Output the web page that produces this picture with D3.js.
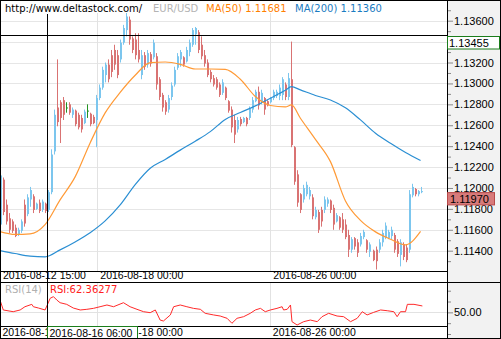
<!DOCTYPE html>
<html><head><meta charset="utf-8">
<script src="https://cdn.jsdelivr.net/npm/d3@7"></script>
<style>html,body{margin:0;padding:0;background:#fff;}svg{display:block;}</style>
</head><body><svg id="c" width="501" height="339"></svg>
<script>
// ---------- DATA ----------
const candlePeriodHours = 2.5; // trading hours per drawn candle
const candleOpen = [1.1165,1.1208,1.1184,1.1171,1.1168,1.1162,1.1155,1.1159,1.1184,1.1175,1.1189,1.1192,1.1180,1.1186,1.1179,1.1185,1.1179,1.1196,1.1235,1.1277,
1.1282,1.1284,1.1277,1.1280,1.1270,1.1274,1.1270,1.1267,1.1262,1.1274,1.1271,1.1268,1.1265,1.1286,1.1296,1.1308,1.1318,1.1327,1.1332,1.1327,
1.1323,1.1339,1.1351,1.1361,1.1343,1.1342,1.1332,1.1308,1.1327,1.1318,1.1328,1.1325,1.1326,1.1304,1.1289,1.1282,1.1275,1.1287,1.1299,1.1315,
1.1323,1.1325,1.1321,1.1330,1.1337,1.1347,1.1349,1.1337,1.1327,1.1320,1.1311,1.1305,1.1304,1.1299,1.1291,1.1296,1.1283,1.1275,1.1265,1.1256,
1.1266,1.1263,1.1267,1.1267,1.1275,1.1283,1.1292,1.1282,1.1286,1.1283,1.1282,1.1286,1.1288,1.1288,1.1289,1.1299,1.1287,1.1304,1.1239,1.1213,
1.1194,1.1189,1.1194,1.1192,1.1191,1.1172,1.1177,1.1179,1.1179,1.1185,1.1188,1.1181,1.1168,1.1172,1.1170,1.1165,1.1155,1.1141,1.1152,1.1148,
1.1146,1.1153,1.1150,1.1139,1.1140,1.1141,1.1141,1.1148,1.1153,1.1152,1.1154,1.1155,1.1149,1.1136,1.1146,1.1143,1.1141,1.1193,1.1199,1.1194,1.1196];
const candleHigh = [1.1219,1.1210,1.1189,1.1176,1.1170,1.1165,1.1162,1.1170,1.1189,1.1194,1.1201,1.1194,1.1186,1.1189,1.1189,1.1186,1.1198,1.1237,1.1275,1.1323,
1.1284,1.1287,1.1282,1.1282,1.1277,1.1275,1.1272,1.1270,1.1275,1.1280,1.1272,1.1270,1.1289,1.1299,1.1316,1.1320,1.1323,1.1332,1.1337,1.1332,
1.1342,1.1356,1.1368,1.1364,1.1345,1.1348,1.1348,1.1332,1.1330,1.1332,1.1330,1.1342,1.1329,1.1306,1.1291,1.1284,1.1289,1.1301,1.1316,1.1329,
1.1332,1.1326,1.1335,1.1342,1.1353,1.1354,1.1351,1.1345,1.1332,1.1323,1.1313,1.1308,1.1306,1.1301,1.1304,1.1297,1.1284,1.1278,1.1270,1.1268,
1.1268,1.1268,1.1268,1.1278,1.1287,1.1294,1.1297,1.1294,1.1287,1.1284,1.1287,1.1294,1.1294,1.1299,1.1306,1.1301,1.1310,1.1340,1.1240,1.1217,
1.1195,1.1203,1.1206,1.1201,1.1194,1.1182,1.1179,1.1182,1.1192,1.1191,1.1189,1.1184,1.1176,1.1173,1.1176,1.1170,1.1160,1.1153,1.1153,1.1151,
1.1157,1.1160,1.1151,1.1148,1.1141,1.1144,1.1151,1.1160,1.1167,1.1160,1.1163,1.1157,1.1151,1.1151,1.1148,1.1146,1.1198,1.1204,1.1200,1.1198,1.1201];
const candleLow = [1.1158,1.1174,1.1165,1.1157,1.1157,1.1153,1.1154,1.1157,1.1163,1.1173,1.1182,1.1176,1.1179,1.1176,1.1177,1.1176,1.1177,1.1194,1.1232,1.1259,
1.1243,1.1265,1.1272,1.1270,1.1267,1.1259,1.1256,1.1253,1.1261,1.1267,1.1259,1.1261,1.1239,1.1284,1.1294,1.1301,1.1301,1.1306,1.1313,1.1305,
1.1320,1.1337,1.1345,1.1337,1.1329,1.1323,1.1320,1.1304,1.1313,1.1315,1.1316,1.1323,1.1294,1.1284,1.1273,1.1270,1.1272,1.1284,1.1297,1.1313,
1.1316,1.1316,1.1320,1.1326,1.1335,1.1337,1.1329,1.1323,1.1316,1.1306,1.1301,1.1297,1.1294,1.1287,1.1289,1.1284,1.1272,1.1253,1.1243,1.1253,
1.1259,1.1262,1.1259,1.1265,1.1272,1.1282,1.1275,1.1280,1.1270,1.1278,1.1281,1.1284,1.1286,1.1284,1.1284,1.1284,1.1284,1.1239,1.1203,1.1182,
1.1176,1.1186,1.1192,1.1189,1.1170,1.1170,1.1157,1.1163,1.1176,1.1182,1.1176,1.1160,1.1167,1.1160,1.1157,1.1151,1.1134,1.1138,1.1141,1.1134,
1.1144,1.1151,1.1138,1.1134,1.1130,1.1122,1.1138,1.1144,1.1151,1.1151,1.1151,1.1138,1.1134,1.1125,1.1131,1.1129,1.1138,1.1191,1.1192,1.1192,1.1195];
const candleClose = [1.1212,1.1177,1.1168,1.1160,1.1159,1.1154,1.1160,1.1168,1.1166,1.1191,1.1198,1.1179,1.1185,1.1178,1.1187,1.1178,1.1196,1.1232,1.1270,1.1263,
1.1267,1.1270,1.1277,1.1272,1.1275,1.1261,1.1258,1.1256,1.1273,1.1274,1.1261,1.1262,1.1286,1.1296,1.1313,1.1318,1.1304,1.1311,1.1318,1.1308,
1.1339,1.1353,1.1364,1.1342,1.1332,1.1327,1.1323,1.1327,1.1316,1.1329,1.1319,1.1339,1.1299,1.1287,1.1277,1.1273,1.1286,1.1298,1.1313,1.1326,
1.1330,1.1318,1.1332,1.1339,1.1351,1.1353,1.1332,1.1326,1.1319,1.1308,1.1304,1.1299,1.1296,1.1289,1.1301,1.1286,1.1274,1.1258,1.1251,1.1265,
1.1261,1.1267,1.1261,1.1276,1.1284,1.1292,1.1279,1.1291,1.1275,1.1279,1.1286,1.1292,1.1292,1.1296,1.1304,1.1287,1.1305,1.1241,1.1206,1.1186,
1.1179,1.1200,1.1203,1.1198,1.1173,1.1179,1.1160,1.1168,1.1189,1.1189,1.1179,1.1165,1.1174,1.1162,1.1160,1.1153,1.1141,1.1151,1.1144,1.1138,
1.1154,1.1158,1.1141,1.1146,1.1131,1.1130,1.1148,1.1157,1.1164,1.1158,1.1160,1.1141,1.1137,1.1148,1.1134,1.1131,1.1194,1.1201,1.1194,1.1197,1.1197];

// moving averages, read at these candle indices
const maIndex = [0,5,10,15,20,25,30,35,40,45,50,55,60,65,70,75,80,85,90,95,97,100,105,110,115,120,125,130,135,140];
const ma50 = [1.11583,1.11556,1.11561,1.11650,1.11886,1.12106,1.12431,1.12718,1.12914,1.13078,1.13199,1.13205,1.13183,1.13138,1.13138,1.13134,1.13040,1.12875,1.12789,1.12775,1.12794,1.12667,1.12464,1.12252,1.11876,1.11690,1.11580,1.11510,1.11456,1.11585];
const ma200 = [1.11401,1.11373,1.11348,1.11341,1.11408,1.11484,1.11572,1.11685,1.11838,1.12032,1.12189,1.12273,1.12362,1.12447,1.12539,1.12656,1.12722,1.12785,1.12859,1.12934,1.12969,1.12938,1.12885,1.12842,1.12767,1.12651,1.12524,1.12428,1.12340,1.12263];

// RSI(14), read at these candle indices
const rsiIndex = [0,1.1,4.4,6.7,8.3,10.6,11.1,12.8,15,15.6,16.7,17.8,18.9,20,22.2,24.4,26.7,28.9,31.1,33.3,35.6,37.8,41.1,43.3,45.6,47.8,50,51.7,53.3,54.4,56.7,57.8,60,62.2,64.4,66.7,68.3,71.1,73.3,75.6,77.2,78.9,81.1,83.3,85,86.7,88.3,90,92.2,93.9,94.4,95.6,96.7,97.2,98.9,101.1,103.3,105.6,107.2,109.4,112.2,114.4,116.7,118.9,120.6,122.2,124.4,126.7,128.9,131.1,132.2,133.3,135,135.6,137.8,140.6];
const rsiValue = [61.4,52.2,50.6,52.2,55.2,57.4,55.2,54.0,52.2,55.9,63.0,64.5,61.4,58.9,57.4,54.0,52.2,52.8,53.7,55.2,56.8,55.2,58.9,55.2,52.8,50.6,49.7,52.2,42.9,42.0,47.6,55.2,56.8,55.2,53.7,52.8,49.1,47.6,46.6,44.5,39.9,44.5,46.0,49.1,52.2,53.7,50.6,52.2,53.7,55.2,52.2,52.8,56.8,41.4,38.3,41.4,42.9,41.4,46.0,49.1,46.6,46.0,41.4,44.5,50.6,47.6,50.0,52.2,51.5,50.6,46.0,50.6,50.6,57.4,57.4,55.9];

const priceTicks = [1.114,1.116,1.118,1.120,1.122,1.124,1.126,1.128,1.130,1.132,1.134,1.136];
const priceMinorTicks = [1.113,1.115,1.117,1.119,1.121,1.123,1.125,1.127,1.129,1.131,1.133,1.135,1.137];
const rsiTicks = [50];
const rsiMinorTicks = [30,40,60,70];
const timeTickHours = [0,81,225];
const timeTickLabels = ["2016-08-12 15:00","2016-08-18 00:00","2016-08-26 00:00"];
const crossHour = 39, crossTimeLabel = "2016-08-16 06:00", crossPrice = 1.13455;
const titleText = "http://www.deltastock.com/", symbol = "EUR/USD";
const ma50Label = "MA(50) 1.11681", ma200Label = "MA(200) 1.11360";
const rsiName = "RSI(14)", rsiLabel = "RSI:62.36277";

// ---------- DRAW ----------
const svg = d3.select("#c");
const PW = 447, MAIN_B = 271.5, RSI_T = 282.5, RSI_B = 326.5;
const x = d3.scaleLinear().domain([0,372]).range([0,PW]);
const y = d3.scaleLinear().domain([1.114,1.136]).range([250.7,20.7]);
const yr = d3.scaleLinear().domain([30,70]).range([334,290.7]);
const px = v => Math.round(v)+0.5;
const hourOf = i => i*candlePeriodHours;
const LAB = "'Liberation Sans', Arial, sans-serif", DV = "'DejaVu Sans', Verdana, sans-serif";

svg.append("rect").attr("width",501).attr("height",339).attr("fill","#fff");
svg.append("rect").attr("x",PW).attr("y",0).attr("width",501-PW).attr("height",339).attr("fill","#f2f2f2");

const cx = px(x(crossHour));
const cyLine = px(y(crossPrice))-1;

const defs = svg.append("defs");
defs.append("clipPath").attr("id","cm").append("rect").attr("x",0).attr("y",0).attr("width",PW).attr("height",MAIN_B);
defs.append("clipPath").attr("id","cr").append("rect").attr("x",0).attr("y",RSI_T).attr("width",PW).attr("height",RSI_B-RSI_T);
// bottom time labels are hidden behind the crosshair time box
const cb = defs.append("clipPath").attr("id","cb");
cb.append("rect").attr("x",0).attr("y",RSI_B).attr("width",cx).attr("height",14);
cb.append("rect").attr("x",cx+91).attr("y",RSI_B).attr("width",PW-cx-91).attr("height",14);
// price labels are hidden behind the crosshair price box
const cp = defs.append("clipPath").attr("id","cp");
cp.append("rect").attr("x",-10).attr("y",0).attr("width",80).attr("height",cyLine);
cp.append("rect").attr("x",-10).attr("y",cyLine+13).attr("width",80).attr("height",300);

// grid main
const grid = svg.append("g");
grid.selectAll("line.h").data(priceTicks).join("line")
  .attr("x1",0).attr("x2",PW).attr("y1",d=>px(y(d))).attr("y2",d=>px(y(d)))
  .attr("stroke","#e6e6e6");
grid.selectAll("line.v").data(timeTickHours.filter(h=>h>0)).join("line")
  .attr("x1",d=>px(x(d))).attr("x2",d=>px(x(d))).attr("y1",13).attr("y2",MAIN_B)
  .attr("stroke","#e2e2e2");

// candles
const cg = svg.append("g").attr("clip-path","url(#cm)");
const idx = d3.range(candleOpen.length);
const col = i => candleClose[i]>candleOpen[i] ? "#7cc6ee" : (candleClose[i]<candleOpen[i] ? "#d97373" : "#239323");
cg.selectAll("line.w").data(idx).join("line")
  .attr("x1",i=>Math.round(x(hourOf(i)))+0.5).attr("x2",i=>Math.round(x(hourOf(i)))+0.5)
  .attr("y1",i=>y(candleHigh[i])).attr("y2",i=>y(candleLow[i]))
  .attr("stroke",col).attr("stroke-width",1);
cg.selectAll("rect.b").data(idx).join("rect")
  .attr("x",i=>Math.round(x(hourOf(i)))).attr("width",2)
  .attr("y",i=>Math.min(y(candleOpen[i]),y(candleClose[i])))
  .attr("height",i=>Math.max(1,Math.abs(y(candleOpen[i])-y(candleClose[i]))))
  .attr("fill",col);

// MAs
const maLine = arr => d3.line().curve(d3.curveMonotoneX).x((d,k)=>x(hourOf(maIndex[k]))).y(d=>y(d))(arr);
cg.append("path").attr("d",maLine(ma200)).attr("fill","none").attr("stroke","#2b8fd3").attr("stroke-width",1.2);
cg.append("path").attr("d",maLine(ma50)).attr("fill","none").attr("stroke","#ff9a36").attr("stroke-width",1.2);

// title band
svg.append("rect").attr("x",1).attr("y",1).attr("width",PW-1).attr("height",12).attr("fill","#fff");
const tt = svg.append("g").attr("font-family",DV).attr("font-size",10);
tt.append("text").attr("x",5).attr("y",12).attr("fill","#000").text(titleText);
tt.append("text").attr("x",153).attr("y",12).attr("fill","#b4b4b4").text(symbol);
tt.append("text").attr("x",206).attr("y",12).attr("fill","#ff8000").text(ma50Label);
tt.append("text").attr("x",295).attr("y",12).attr("fill","#1a7cc2").text(ma200Label);

// RSI panel
const rg = svg.append("g");
rg.append("line").attr("x1",0).attr("x2",PW).attr("y1",px(yr(50))).attr("y2",px(yr(50))).attr("stroke","#e2e2e2");
rg.selectAll("line.v").data(timeTickHours.filter(h=>h>0)).join("line")
  .attr("x1",d=>px(x(d))).attr("x2",d=>px(x(d))).attr("y1",RSI_T).attr("y2",RSI_B)
  .attr("stroke","#e2e2e2");
const rsiPath = d3.line().x((d,k)=>x(hourOf(rsiIndex[k]))).y(d=>yr(d))(rsiValue);
svg.append("g").attr("clip-path","url(#cr)").append("path").attr("d",rsiPath)
  .attr("fill","none").attr("stroke","#ff2a2a").attr("stroke-width",1);
const rt = svg.append("g").attr("font-family",DV).attr("font-size",10);
rt.append("text").attr("x",5).attr("y",293).attr("fill","#b0b0b0").text(rsiName);
rt.append("text").attr("x",50).attr("y",293).attr("fill","#ff2020").text(rsiLabel);

// crosshair
svg.append("line").attr("x1",0).attr("x2",PW).attr("y1",cyLine).attr("y2",cyLine).attr("stroke","#000");
svg.append("line").attr("x1",cx).attr("x2",cx).attr("y1",14).attr("y2",RSI_B).attr("stroke","#000");

// panel separators
const sep = (x1,x2,yy)=>svg.append("line").attr("x1",x1).attr("x2",x2).attr("y1",yy).attr("y2",yy).attr("stroke","#000");
sep(0,PW,MAIN_B); sep(0,501,RSI_T); sep(0,PW,RSI_B);

// time axes
function timeAxis(yy, pad, clip){
  const g = svg.append("g").attr("transform",`translate(0,${yy})`)
    .call(d3.axisBottom(x).tickValues(timeTickHours).tickSize(0).tickPadding(pad)
      .tickFormat((d,i)=>timeTickLabels[i]));
  g.select(".domain").remove();
  g.selectAll("text").attr("text-anchor","start").attr("dx",2.5)
    .attr("font-family",LAB).attr("font-size",10.5).attr("fill","#000");
  if (clip) { g.attr("transform",null); g.attr("clip-path",clip);
    g.selectAll(".tick").attr("transform",d=>`translate(${x(d)},${yy})`); }
  return g;
}
timeAxis(MAIN_B, 0.5, null);
timeAxis(RSI_B, 2.5, "url(#cb)");

// price axis
function rAxis(scale, ticks, size, fmt, clip){
  const g = svg.append("g").attr("transform",`translate(${PW},0)`)
    .call(d3.axisRight(scale).tickValues(ticks).tickSize(size).tickPadding(1).tickFormat(fmt));
  g.select(".domain").remove();
  g.selectAll("line").attr("stroke","#8a8a8a");
  g.selectAll("text").attr("font-family",LAB).attr("font-size",11).attr("fill","#000");
  if (clip) g.selectAll("text").attr("clip-path",clip);
  return g;
}
rAxis(y, priceMinorTicks, 4, "");
const pa = rAxis(y, priceTicks, 6, d3.format(".5f"));
// the label under the crosshair price box is covered in the reference
pa.selectAll(".tick").filter(d=>Math.abs(y(d)-cyLine)<9).select("text").remove();
rAxis(yr, rsiMinorTicks, 4, "");
rAxis(yr, rsiTicks, 6, d3.format(".2f"));
svg.append("line").attr("x1",PW+0.5).attr("x2",PW+0.5).attr("y1",0).attr("y2",339).attr("stroke","#000");

// current price box
const lastClose = candleClose[candleClose.length-1];
const ly = y(lastClose)+1.5;
svg.append("rect").attr("x",PW+0.5).attr("y",ly).attr("width",47).attr("height",12.3)
  .attr("fill","#d87b7b").attr("stroke","#b84a4a");
svg.append("text").attr("x",PW+3).attr("y",ly+10.5).attr("font-family",LAB).attr("font-size",11)
  .attr("fill","#000").text(d3.format(".5f")(lastClose));

// crosshair price box
const cy = cyLine+1;
svg.append("rect").attr("x",PW+0.5).attr("y",cy).attr("width",52).attr("height",12.5)
  .attr("fill","#fff").attr("stroke","#1b7d1b");
svg.append("text").attr("x",PW+2).attr("y",cy+10.3).attr("font-family",LAB).attr("font-size",11)
  .attr("fill","#000").text(d3.format(".5f")(crossPrice));

// crosshair time box
svg.append("rect").attr("x",cx).attr("y",RSI_B).attr("width",90).attr("height",12.5)
  .attr("fill","#fff").attr("stroke","#1b7d1b");
svg.append("text").attr("x",cx+2).attr("y",RSI_B+10.5).attr("font-family",LAB).attr("font-size",10.5)
  .attr("fill","#000").text(crossTimeLabel);

// outer border
svg.append("rect").attr("x",0.5).attr("y",0.5).attr("width",500).attr("height",338)
  .attr("fill","none").attr("stroke","#000");
</script></body></html>
